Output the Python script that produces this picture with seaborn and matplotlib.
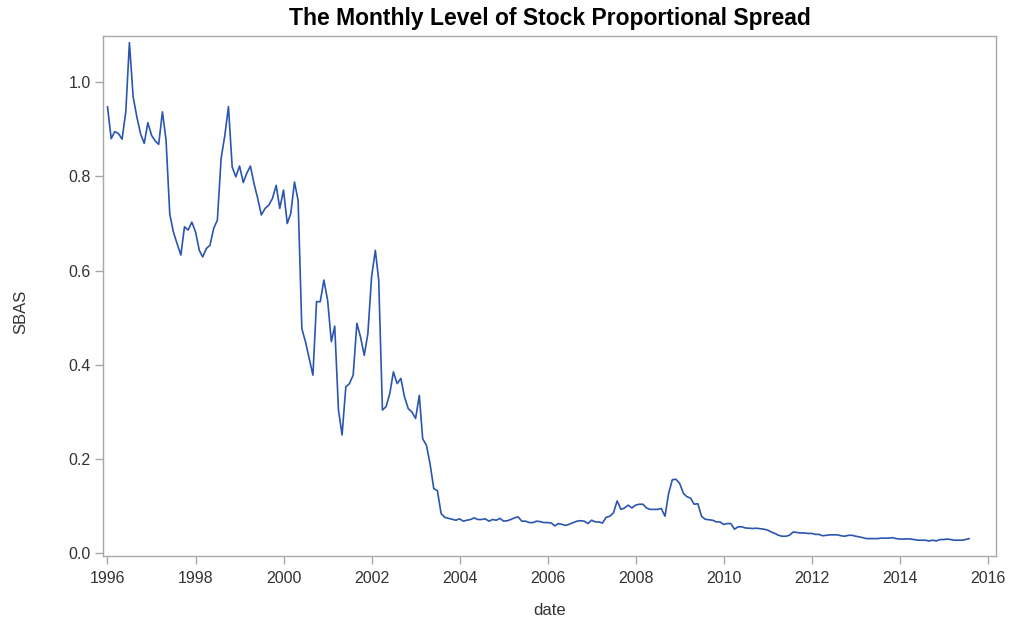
import pandas as pd
import matplotlib
matplotlib.use("Agg")
import matplotlib.pyplot as plt
import matplotlib.dates as mdates
import seaborn as sns

# Monthly proportional spread, one list per calendar year
y1996 = [0.948, 0.880, 0.895, 0.891, 0.879, 0.937, 1.084, 0.969, 0.926, 0.891, 0.870, 0.914]
y1997 = [0.887, 0.875, 0.868, 0.937, 0.877, 0.720, 0.682, 0.657, 0.633, 0.693, 0.686, 0.703]
y1998 = [0.682, 0.643, 0.629, 0.647, 0.654, 0.690, 0.707, 0.838, 0.887, 0.948, 0.820, 0.799]
y1999 = [0.822, 0.787, 0.806, 0.822, 0.785, 0.753, 0.718, 0.732, 0.739, 0.753, 0.781, 0.732]
y2000 = [0.771, 0.700, 0.721, 0.788, 0.749, 0.477, 0.449, 0.413, 0.378, 0.534, 0.534, 0.580]
y2001 = [0.537, 0.449, 0.482, 0.304, 0.251, 0.353, 0.360, 0.378, 0.488, 0.459, 0.420, 0.466]
y2002 = [0.587, 0.643, 0.580, 0.304, 0.311, 0.339, 0.385, 0.360, 0.371, 0.332, 0.307, 0.300]
y2003 = [0.286, 0.335, 0.243, 0.229, 0.190, 0.137, 0.133, 0.084, 0.076, 0.074, 0.072, 0.070]
y2004 = [0.073, 0.068, 0.070, 0.0715, 0.075, 0.0715, 0.0715, 0.073, 0.068, 0.0715, 0.070, 0.074]
y2005 = [0.068, 0.069, 0.0715, 0.075, 0.077, 0.068, 0.068, 0.065, 0.065, 0.068, 0.067, 0.065]
y2006 = [0.065, 0.064, 0.058, 0.063, 0.061, 0.059, 0.0616, 0.065, 0.068, 0.069, 0.068, 0.063]
y2007 = [0.070, 0.0665, 0.0665, 0.064, 0.076, 0.0785, 0.0856, 0.111, 0.093, 0.096, 0.102, 0.096]
y2008 = [0.102, 0.104, 0.104, 0.096, 0.093, 0.093, 0.093, 0.095, 0.0785, 0.127, 0.156, 0.157]
y2009 = [0.148, 0.127, 0.120, 0.117, 0.104, 0.105, 0.0785, 0.072, 0.071, 0.070, 0.0665, 0.0665]
y2010 = [0.061, 0.063, 0.063, 0.051, 0.056, 0.056, 0.0535, 0.053, 0.0525, 0.053, 0.052, 0.051]
y2011 = [0.049, 0.045, 0.042, 0.038, 0.036, 0.036, 0.038, 0.045, 0.044, 0.043, 0.043, 0.042]
y2012 = [0.042, 0.040, 0.040, 0.037, 0.038, 0.039, 0.039, 0.039, 0.037, 0.036, 0.038, 0.038]
y2013 = [0.036, 0.0346, 0.033, 0.031, 0.031, 0.031, 0.031, 0.032, 0.032, 0.032, 0.033, 0.031]
y2014 = [0.030, 0.030, 0.0305, 0.030, 0.029, 0.0276, 0.0276, 0.0276, 0.026, 0.0276, 0.026, 0.029]
y2015 = [0.029, 0.030, 0.029, 0.0276, 0.0276, 0.0276, 0.029, 0.031]

sbas = (y1996 + y1997 + y1998 + y1999 + y2000 + y2001 + y2002 + y2003 + y2004 + y2005
        + y2006 + y2007 + y2008 + y2009 + y2010 + y2011 + y2012 + y2013 + y2014 + y2015)
dates = pd.date_range("1996-01-01", periods=len(sbas), freq="MS")
df = pd.DataFrame({"date": dates, "SBAS": sbas})

y_ticks = [0.0, 0.2, 0.4, 0.6, 0.8, 1.0]

sns.set_theme(style="white")
plt.rcParams["font.family"] = ["Liberation Sans", "DejaVu Sans"]

frame_col = "#a8a8a8"
text_col = "#333333"

fig = plt.figure(figsize=(10.13, 6.23), dpi=100)
ax = fig.add_axes([0.1017, 0.1075, 0.8815, 0.8347])

sns.lineplot(data=df, x="date", y="SBAS", ax=ax, color="#2a55b0", linewidth=1.2)

ax.set_xlim(pd.Timestamp("1995-11-25"), pd.Timestamp("2016-03-10"))
ax.set_ylim(-0.006, 1.098)
ax.xaxis.set_major_locator(mdates.YearLocator(2))
ax.xaxis.set_major_formatter(mdates.DateFormatter("%Y"))
ax.set_yticks(y_ticks)
ax.set_yticklabels([f"{v:.1f}" for v in y_ticks])

for s in ax.spines.values():
    s.set_color(frame_col)
    s.set_linewidth(1.0)
ax.tick_params(axis="both", which="major", direction="out", length=6, width=1.0,
               color=frame_col, labelcolor=text_col, labelsize=11.5, pad=3,
               bottom=True, left=True)
ax.tick_params(axis="x", pad=5)

ax.set_xlabel("date", fontsize=12, color=text_col, labelpad=12)
ax.set_ylabel("SBAS", fontsize=12, color=text_col)
ax.yaxis.set_label_coords(-0.084, 0.47)
ax.set_title("The Monthly Level of Stock Proportional Spread", fontsize=16.5,
             fontweight="bold", color="#000000", pad=8)

fig.savefig("out.png", dpi=100, facecolor="white")
